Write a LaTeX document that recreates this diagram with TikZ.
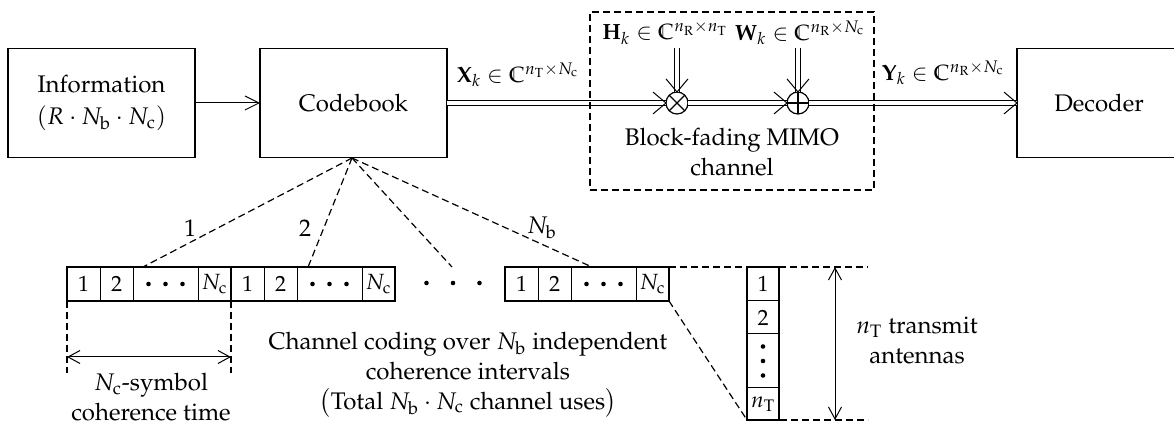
\documentclass[tikz,border=0pt]{standalone}
\usepackage[T1]{fontenc}
\usepackage{mathpazo}
\usetikzlibrary{arrows.meta,calc}
\newcommand{\chevat}[2]{\draw[line width=0.5pt] (#1) ++(#2+140:8.5pt) -- (#1) -- ++(#2-140:8.5pt);}
\newcommand{\cblock}[2]{%
  \node[cell, minimum width=16.5pt, anchor=west] (#1a) at (#2,284) {1};
  \node[cell, minimum width=16.5pt, anchor=west] (#1b) at (#1a.east) {2};
  \node[cell, minimum width=32.5pt, anchor=west] (#1c) at (#1b.east) {};
  \node[cell, minimum width=16.5pt, anchor=west] (#1d) at (#1c.east) {$N_\mathrm{c}$};
  \node[draw, line width=1.1pt, minimum width=82pt, minimum height=17pt, anchor=west] (#1) at (#2,284) {};
  \fill ($(#1c.center)+(-17,0)$) circle (1.15pt);
  \fill (#1c.center) circle (1.15pt);
  \fill ($(#1c.center)+(17,0)$) circle (1.15pt);
}
\begin{document}
\begin{tikzpicture}[x=0.5pt,y=-0.5pt,
  every node/.style={font=\fontsize{12}{15}\selectfont, inner sep=0pt, outer sep=0pt},
  lbl/.style={font=\fontsize{11}{13}\selectfont},
  box/.style={draw, line width=0.75pt, minimum width=93.5pt, minimum height=54.5pt, align=center},
  arr/.style={line width=0.5pt, -{Straight Barb[length=7pt,width=7pt]}},
  darr/.style={line width=0.5pt, {Straight Barb[length=6pt,width=6.5pt]}-{Straight Barb[length=6pt,width=6.5pt]}},
  dbl/.style={line width=0.5pt, double distance=1.6pt},
  dsh/.style={line width=0.6pt, dash pattern=on 3.5pt off 2pt},
  cell/.style={draw, line width=0.5pt, minimum height=17pt, font=\fontsize{11}{13}\selectfont},
  opnode/.style={circle, draw, line width=0.6pt, minimum size=11pt},
]
\useasboundingbox (0,0) rectangle (1174,427);

% top row
\node[box] (info) at (101.5,103) {Information\\[1pt]$(R\cdot N_\mathrm{b}\cdot N_\mathrm{c})$};
\node[box] (cb) at (353.5,103) {Codebook};
\node[box, minimum width=82pt] (dec) at (1099,103) {Decoder};
\draw[arr] (info) -- (cb);

\node[opnode] (ot) at (677,103) {};
\draw[line width=0.6pt] (ot.north east) -- (ot.south west) (ot.north west) -- (ot.south east);
\node[opnode] (op) at (798,103) {};
\draw[line width=0.6pt] (op.north) -- (op.south) (op.west) -- (op.east);

\draw[dbl] (cb.east) -- (ot.west); \chevat{ot.west}{0}
\draw[dbl] (ot.east) -- (op.west); \chevat{op.west}{0}
\draw[dbl] (op.east) -- (dec.west); \chevat{dec.west}{0}

\node[lbl] (xl) at (518,75) {$\mathbf{X}_k\in\mathbb{C}^{n_\mathrm{T}\times N_\mathrm{c}}$};
\node[lbl] (hl) at (665,33) {$\mathbf{H}_k\in\mathbb{C}^{n_\mathrm{R}\times n_\mathrm{T}}$};
\node[lbl] (wl) at (800,33) {$\mathbf{W}_k\in\mathbb{C}^{n_\mathrm{R}\times N_\mathrm{c}}$};
\node[lbl] (yl) at (943,73) {$\mathbf{Y}_k\in\mathbb{C}^{n_\mathrm{R}\times N_\mathrm{c}}$};

\coordinate (hs) at (677,48);
\coordinate (ws) at (798,48);
\draw[dbl] (hs) -- (ot.north); \chevat{ot.north}{-90}
\draw[dbl] (ws) -- (op.north); \chevat{op.north}{-90}

\node[dsh, draw, minimum width=142pt, minimum height=89pt] (chan) at (732,101) {};
\node[align=center] (chtxt) at (732,152) {Block-fading MIMO\\channel};

% blocks
\cblock{ba}{67}
\cblock{bb}{231}
\cblock{bc}{505}

\node (ell) at (453,283) {};
\fill ($(ell)+(-26.5,0)$) circle (1.15pt);
\fill (ell) circle (1.15pt);
\fill ($(ell)+(26.5,0)$) circle (1.15pt);

\coordinate (apex) at (352,158);
\coordinate (e3) at (452,267);
\draw[dsh] (apex) -- ($(ba.north west)!0.463!(ba.north east)$);
\draw[dsh] (apex) -- ($(bb.north west)!0.47!(bb.north east)$);
\draw[dsh] (apex) -- (e3);
\draw[dsh] (apex) -- ($(bc.north west)!0.53!(bc.north east)$);

\node (l1) at (190,228) {1};
\node (l2) at (305,228) {2};
\node (l3) at (542,228) {$N_\mathrm{b}$};

% antenna column
\node[cell, minimum width=16pt, minimum height=17pt, anchor=north] (a1) at (763,267) {1};
\node[cell, minimum width=16pt, minimum height=16.5pt, anchor=north] (a2) at (a1.south) {2};
\node[cell, minimum width=16pt, minimum height=27pt, anchor=north] (a3) at (a2.south) {};
\node[cell, minimum width=16pt, minimum height=16pt, anchor=north] (a4) at (a3.south) {$n_\mathrm{T}$};
\node[draw, line width=1.1pt, minimum width=16pt, minimum height=76.5pt, anchor=north] (ant) at (763,267) {};
\fill ($(a3.center)+(0,-14.5)$) circle (1.15pt);
\fill (a3.center) circle (1.15pt);
\fill ($(a3.center)+(0,14.5)$) circle (1.15pt);

\coordinate (tr) at (868,267);
\coordinate (br) at (868,420);
\draw[dsh] (bc.north east) -- (tr);
\draw[dsh] (bc.south east) -- (ant.south west);
\draw[dsh] (ant.south west) -- (br);
\coordinate (vt) at (835,267);
\coordinate (vb) at (835,420);
\draw[darr] (vt) -- (vb);
\node[align=center] (antl) at (917,340) {$n_\mathrm{T}$ transmit\\antennas};

% coherence time
\coordinate (d1) at (67,373);
\coordinate (d2) at (231,373);
\draw[dsh] (ba.south west) -- (d1);
\draw[dsh] (ba.south east) -- (d2);
\coordinate (h1) at (67,357);
\coordinate (h2) at (231,357);
\draw[darr] (h1) -- (h2);
\node[align=center] (nsym) at (151,397) {$N_\mathrm{c}$-symbol\\coherence time};

\node[align=center] (cc) at (468,375) {Channel coding over $N_\mathrm{b}$ independent\\coherence intervals\\$\big($Total\ $N_\mathrm{b}\cdot N_\mathrm{c}$ channel uses$\big)$};
\end{tikzpicture}
\end{document}
